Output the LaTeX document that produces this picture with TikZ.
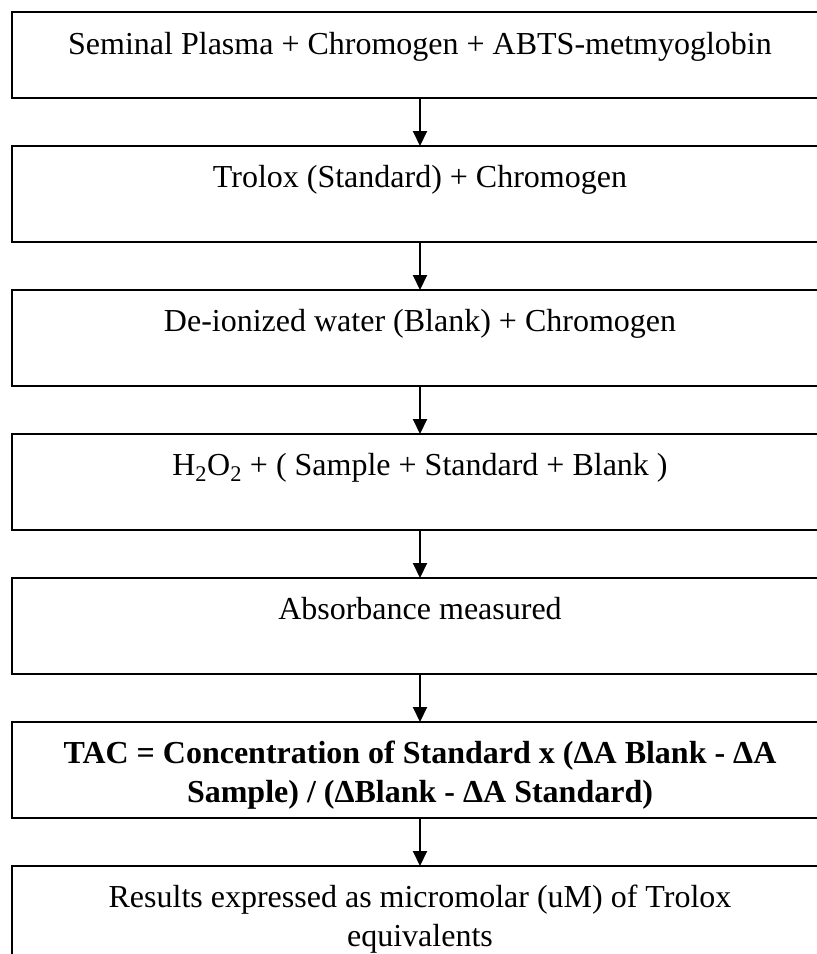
\documentclass[tikz,border=0pt]{standalone}
\usepackage{fontspec}
\setmainfont{Liberation Serif}
\usetikzlibrary{arrows.meta, positioning}

\begin{document}
\begin{tikzpicture}[x=1pt, y=-1pt,
  stepbox/.style={draw, line width=2pt, outer sep=0pt, minimum width=816pt, inner xsep=10pt, inner ysep=0pt,
    text height=41pt, text depth=55pt, align=center, font=\fontsize{32}{39}\selectfont},
  twoline/.style={text height=80pt, text depth=16pt},
  flow/.style={-{Triangle[length=15pt,width=14pt]}, line width=2pt},
  node distance=48pt]

  % frame of the picture (boxes run past the right edge)
  \useasboundingbox (0,0) rectangle (817,954);

  % steps of the assay
  \node[stepbox, anchor=north, text height=42pt, text depth=44pt] (plasma) at (420,12)
    {Seminal Plasma + Chromogen + ABTS-metmyoglobin};
  \node[stepbox, below=of plasma] (trolox) {Trolox (Standard) + Chromogen};
  \node[stepbox, below=of trolox] (blank) {De-ionized water (Blank) + Chromogen};
  \node[stepbox, below=of blank] (peroxide) {H\textsubscript{2}O\textsubscript{2} + ( Sample + Standard + Blank )};
  \node[stepbox, below=of peroxide] (absorb) {Absorbance measured};
  \node[stepbox, twoline, below=of absorb] (tac)
    {\textbf{TAC = Concentration of Standard x (ΔA Blank - ΔA}\\\textbf{Sample) / (ΔBlank - ΔA Standard)}};
  \node[stepbox, twoline, below=of tac] (result)
    {Results expressed as micromolar (uM) of Trolox\\equivalents};

  % arrows between the steps
  \draw[flow] (plasma) -- (trolox);
  \draw[flow] (trolox) -- (blank);
  \draw[flow] (blank) -- (peroxide);
  \draw[flow] (peroxide) -- (absorb);
  \draw[flow] (absorb) -- (tac);
  \draw[flow] (tac) -- (result);

\end{tikzpicture}
\end{document}
